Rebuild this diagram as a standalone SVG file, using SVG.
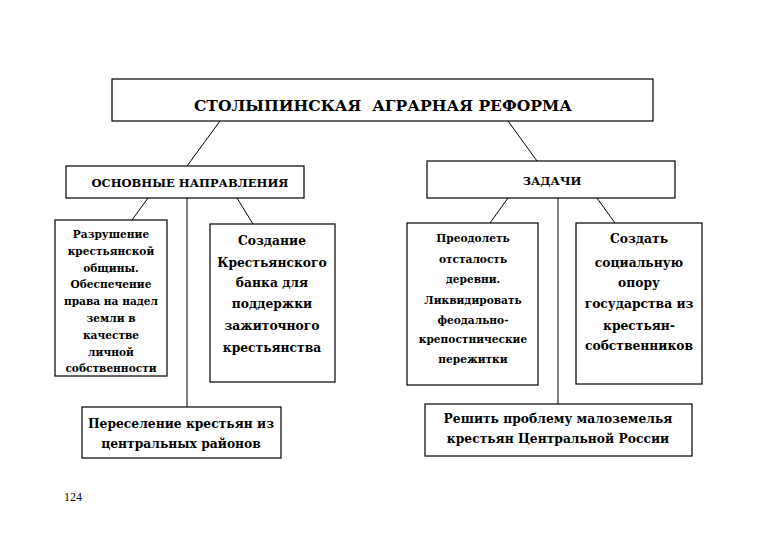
<svg xmlns="http://www.w3.org/2000/svg" width="780" height="540" viewBox="0 0 780 540">
<style>
.box{fill:#fff;stroke:#000;stroke-width:1.2}
.ln{stroke:#000;stroke-width:1;fill:none}
text{font-family:"DejaVu Serif",serif;font-weight:bold;fill:#000;text-anchor:middle;white-space:pre}
.t1{font-size:15.6px}
.t2{font-size:11.5px}
.s{font-size:10.6px}
.m{font-size:12.3px}
.n{font-size:12px;font-weight:normal;text-anchor:start;font-family:"Liberation Serif",serif}
</style>
<rect width="780" height="540" fill="#fff"/>
<g id="connectors">
<line class="ln" x1="220" y1="121" x2="187" y2="166"/>
<line class="ln" x1="508" y1="121" x2="537" y2="161"/>
<line class="ln" x1="148" y1="198" x2="132" y2="220"/>
<line class="ln" x1="187" y1="198" x2="187" y2="407"/>
<line class="ln" x1="237" y1="198" x2="253" y2="224"/>
<line class="ln" x1="508" y1="198" x2="490" y2="223"/>
<line class="ln" x1="558" y1="198" x2="558" y2="404"/>
<line class="ln" x1="597" y1="198" x2="615" y2="223"/>
</g>
<g id="reform">
<rect class="box" x="112" y="79" width="541" height="42"/>
<text class="t1" x="383" y="111" xml:space="preserve">СТОЛЫПИНСКАЯ  АГРАРНАЯ РЕФОРМА</text>
</g>
<g id="directions">
<rect class="box" x="66" y="166" width="238" height="32"/>
<text class="t2" x="190" y="187">ОСНОВНЫЕ НАПРАВЛЕНИЯ</text>
</g>
<g id="tasks">
<rect class="box" x="427" y="161" width="248" height="37"/>
<text class="t2" x="552" y="185">ЗАДАЧИ</text>
</g>
<g id="destroy">
<rect class="box" x="55" y="220" width="112" height="156"/>
<text class="s" x="111" y="238">Разрушение</text>
<text class="s" x="111" y="255">крестьянской</text>
<text class="s" x="111" y="272">общины.</text>
<text class="s" x="111" y="288">Обеспечение</text>
<text class="s" x="111" y="305">права на надел</text>
<text class="s" x="111" y="322">земли в</text>
<text class="s" x="111" y="339">качестве</text>
<text class="s" x="111" y="356">личной</text>
<text class="s" x="111" y="372">собственности</text>
</g>
<g id="bank">
<rect class="box" x="210" y="224" width="125" height="158"/>
<text class="m" x="272" y="245">Создание</text>
<text class="m" x="272" y="267">Крестьянского</text>
<text class="m" x="272" y="287">банка для</text>
<text class="m" x="272" y="308">поддержки</text>
<text class="m" x="272" y="330">зажиточного</text>
<text class="m" x="272" y="352">крестьянства</text>
</g>
<g id="overcome">
<rect class="box" x="407" y="223" width="131" height="162"/>
<text class="s" x="473" y="242">Преодолеть</text>
<text class="s" x="473" y="263">отсталость</text>
<text class="s" x="473" y="283">деревни.</text>
<text class="s" x="473" y="304">Ликвидировать</text>
<text class="s" x="473" y="324">феодально-</text>
<text class="s" x="473" y="343">крепостнические</text>
<text class="s" x="473" y="363">пережитки</text>
</g>
<g id="support">
<rect class="box" x="576" y="223" width="126" height="161"/>
<text class="m" x="639" y="243">Создать</text>
<text class="m" x="639" y="267">социальную</text>
<text class="m" x="639" y="287">опору</text>
<text class="m" x="639" y="308">государства из</text>
<text class="m" x="639" y="330">крестьян-</text>
<text class="m" x="639" y="350">собственников</text>
</g>
<g id="resettle">
<rect class="box" x="82" y="407" width="199" height="51"/>
<text class="m" x="181" y="428">Переселение крестьян из</text>
<text class="m" x="181" y="448">центральных районов</text>
</g>
<g id="landshortage">
<rect class="box" x="425" y="404" width="267" height="52"/>
<text class="m" x="558" y="423">Решить проблему малоземелья</text>
<text class="m" x="558" y="443">крестьян Центральной России</text>
</g>
<text class="n" x="64" y="501">124</text>
</svg>
